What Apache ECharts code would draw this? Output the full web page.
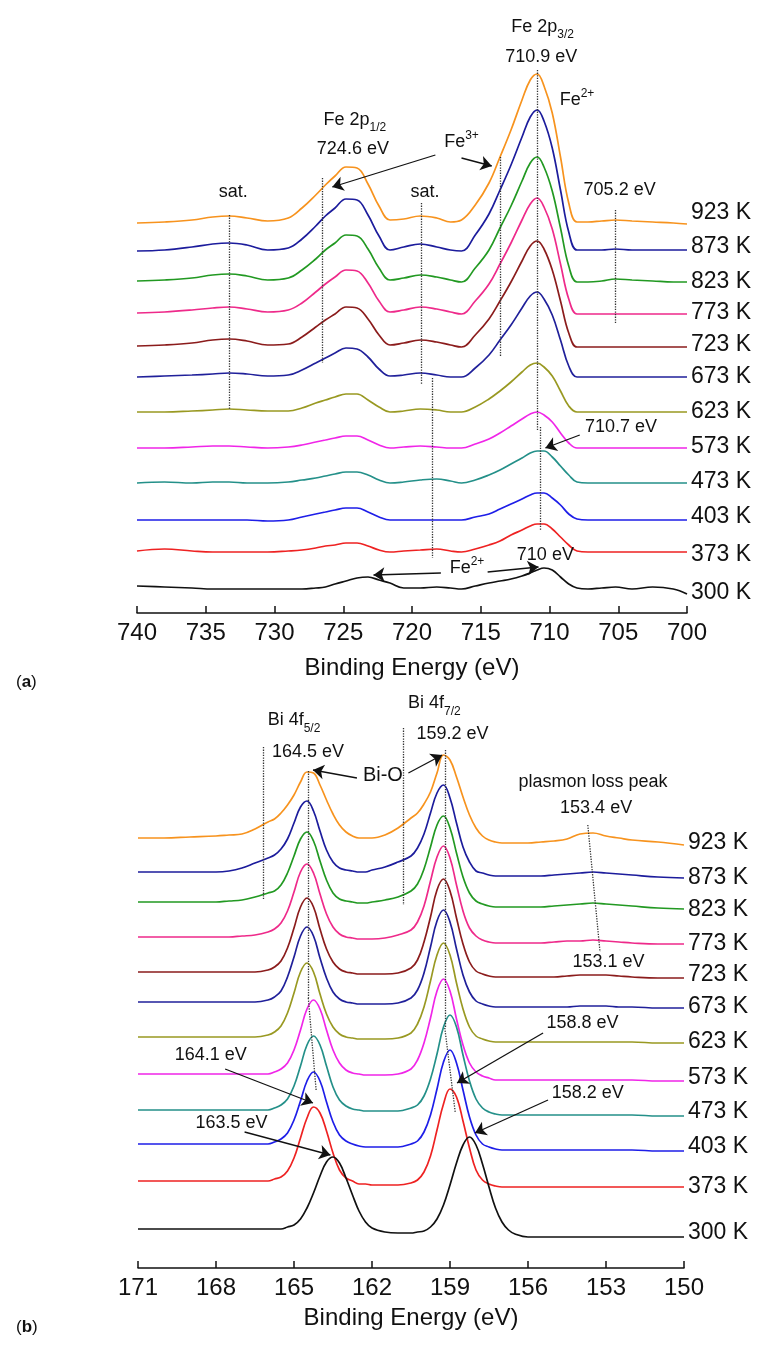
<!DOCTYPE html>
<html><head><meta charset="utf-8">
<script src="https://cdn.jsdelivr.net/npm/echarts@6/dist/echarts.min.js"></script>
<style>html,body{margin:0;padding:0;background:#fff}#c{width:768px;height:1359px}</style>
</head><body><div id="c"></div>
<script>
// ---------- data ----------
const temps = ['923 K','873 K','823 K','773 K','723 K','673 K','623 K','573 K','473 K','403 K','373 K','300 K'];
const colors = ['#F7931E','#1C1C9C','#229922','#EE2A8A','#8B1C1C','#20209A','#999922','#F026E8','#249089','#1E1EE8','#EE2222','#111111'];

// Fe 2p binding energies (eV)
const feX = [740,738,736,734.5,733.3,732,730.5,729,728,727,726.3,725.6,724.8,724,723.2,722.4,721.6,720.6,719.4,718.2,717.2,716.4,715.4,714.4,713.6,712.8,712,711.4,710.9,710.4,709.8,709.2,708.6,708,707.2,706.2,705.2,704,702.5,701,700];
// stacked intensities (a.u.)
const fe923 = [390,391,393,396,397,395,392,395,405,418,428,437,446,445,429,407,393,394,397,395,391,393,408,430,456,483,513,533,539,527,500,456,410,391,391,392,393,392,391,390,389];
const fe873 = [362,363,366,369,370,368,363,365,374,387,397,405,414,413,398,377,363,366,369,366,363,362,378,399,423,448,476,496,503,492,465,423,381,363,363,363,364,363,363,363,363];
const fe823 = [332,333,335,338,339,337,333,335,343,354,363,370,378,377,364,345,333,335,338,336,333,331,345,363,385,407,432,450,456,446,422,385,347,331,331,332,334,333,332,331,331];
const fe773 = [300,301,303,305,306,304,301,303,310,321,329,336,343,342,330,312,301,303,306,304,301,299,312,329,349,370,393,409,415,406,384,349,314,299,299,299,299,299,299,299,299];
const fe723 = [267,268,270,273,274,272,268,269,276,286,293,299,306,305,294,278,268,270,273,271,268,266,278,294,312,331,352,367,372,364,343,312,280,266,266,266,266,266,266,266,266];
const fe673 = [236,237,238,239,240,239,237,238,243,250,255,260,265,264,256,244,237,238,240,238,236,236,245,258,273,288,305,317,321,314,298,273,247,236,236,236,236,236,236,236,236];
const fe623 = [201,201,202,203,204,203,202,202,205,210,213,216,219,219,213,206,201,202,204,203,201,201,206,214,222,231,241,248,250,246,237,222,207,201,201,201,201,201,201,201,201];
const fe573 = [165,165,166,167,167,166,165,166,168,171,173,175,177,177,173,168,165,166,167,166,165,165,169,174,180,187,194,199,201,198,191,180,170,165,165,165,165,165,165,165,165];
const fe473 = [130,131,130,131,131,130,130,131,133,135,137,139,141,141,138,133,130,131,133,134,132,130,133,138,143,149,155,160,162,162,156,147,138,131,130,130,130,130,130,130,130];
const fe403 = [93,93,93,93,93,93,92,93,96,99,101,103,105,105,101,96,93,93,93,93,93,93,96,99,104,109,114,118,120,120,115,108,99,94,93,93,93,93,93,93,93];
const fe373 = [62,64,62,61,61,61,61,62,63,65,67,68,70,70,67,63,61,62,63,64,62,61,64,68,72,78,83,87,89,89,84,76,68,62,61,61,61,61,61,61,61];
const fe300 = [27,26,25,24,24,24,24,24,24,25,26,29,32,35,36,33,30,25,25,26,25,24,27,30,32,34,37,40,43,45,43,36,29,25,24,25,26,24,26,24,19];

// Bi 4f binding energies (eV)
const biX = [171,170,169,168,167.5,167,166.5,166,165.75,165.5,165.25,165,164.75,164.5,164.25,164,163.75,163.5,163.25,163,162.75,162.5,162.25,162,161.5,161,160.5,160.25,160,159.75,159.5,159.25,159,158.75,158.5,158.25,158,157.75,157.5,157.25,157,156.75,156.5,156,155.5,155,154.5,154,153.5,153,152.5,152,151,150];
const bi923 = [430,430,431,432,433,434,439,446,449,455,463,473,486,496,495,483,468,454,443,436,432,430,430,430,433,440,450,455,464,476,495,513,508,491,471,453,440,432,428,426,425,425,425,425,426,427,429,434,435,432,430,428,426,423];
const bi873 = [396,396,396,396,397,400,405,410,413,419,429,445,461,467,457,437,418,406,400,398,397,396,396,398,401,406,412,420,434,455,475,483,470,445,421,406,397,395,393,392,392,392,392,392,392,393,394,395,396,395,394,393,391,390];
const bi823 = [366,366,366,366,367,368,371,375,377,383,395,412,429,436,427,407,388,375,369,367,366,365,365,366,368,371,377,384,399,421,443,452,440,415,391,375,367,364,362,361,361,361,361,361,361,362,363,364,365,364,363,362,360,359];
const bi773 = [331,331,331,331,331,332,333,336,339,345,357,376,396,404,395,374,354,341,334,331,330,329,329,329,330,333,338,346,362,387,411,422,410,383,357,340,332,328,326,325,325,325,325,325,325,326,327,327,328,327,326,325,324,324];
const bi723 = [296,296,296,296,296,296,296,298,301,307,320,340,361,370,361,339,319,306,299,296,295,294,294,294,294,295,300,308,326,351,378,389,377,350,324,306,297,294,292,291,291,291,291,291,291,291,292,293,293,293,292,291,290,290];
const bi673 = [266,266,266,266,266,266,266,268,271,277,291,311,332,341,332,310,290,276,269,266,265,264,264,264,264,265,270,278,295,321,347,358,346,319,293,276,267,264,262,261,261,261,261,261,261,261,261,262,262,262,261,261,260,260];
const bi623 = [231,231,231,231,231,231,231,233,236,242,255,275,296,305,296,274,254,241,234,231,230,229,229,229,229,230,235,244,261,287,313,325,313,285,259,241,232,229,227,226,226,226,226,226,226,226,226,226,226,226,226,226,225,225];
const bi573 = [194,194,194,194,194,194,194,194,196,199,205,218,238,259,268,259,238,218,205,198,195,194,193,193,193,194,199,208,225,250,277,289,277,249,223,205,196,192,190,188,188,188,188,188,188,188,188,188,188,188,188,188,187,187];
const bi473 = [158,158,158,158,158,158,158,158,160,163,169,182,202,223,232,223,202,181,168,162,159,158,157,157,157,157,160,163,172,189,214,241,253,241,213,187,169,160,156,154,153,153,153,153,153,153,153,153,153,153,153,153,152,152];
const bi403 = [124,124,124,124,124,124,124,124,126,129,135,148,167,187,196,187,166,146,133,127,124,122,121,121,121,121,124,127,136,153,179,206,218,205,178,151,133,124,121,119,118,118,118,118,118,118,118,118,118,118,118,118,117,117];
const bi373 = [87,87,87,87,87,87,87,87,89,91,97,110,130,150,161,155,137,115,98,90,87,84,84,83,83,83,85,88,96,112,138,164,179,171,147,120,98,88,84,82,81,81,81,81,81,81,81,81,81,81,81,81,81,81];
const bi300 = [39,39,39,39,39,39,39,39,39,39,41,43,49,60,75,92,106,111,105,90,73,57,46,40,36,35,35,36,37,41,49,63,83,105,123,131,123,104,81,60,46,38,34,31,31,31,31,31,31,31,31,31,31,31];

// axis tick settings
const feTicks = {min:700, max:740, interval:5};
const biTicks = {min:150, max:171, interval:3};

const feData = [fe923,fe873,fe823,fe773,fe723,fe673,fe623,fe573,fe473,fe403,fe373,fe300];
const biData = [bi923,bi873,bi823,bi773,bi723,bi673,bi623,bi573,bi473,bi403,bi373,bi300];

// ---------- annotations (in data coordinates) ----------
const FF = '"Liberation Sans", Arial, Helvetica, sans-serif';
const feDotted = [[[733.3,398],[733.3,203]],[[726.5,435],[726.5,250]],[[719.35,410],[719.35,229]],[[718.5,235],[718.5,55]],[[713.6,456],[713.6,257]],[[710.9,543],[710.9,183]],[[710.7,186],[710.7,83]],[[705.2,403],[705.2,290]]];
const feArrows = [[[718.3,458],[725.8,426]],[[716.4,455],[714.2,447]],[[707.8,178],[710.3,165]],[[717.9,40],[722.8,38]],[[714.5,41],[710.8,46]]];
const biDotted = [[[166.2,521],[166.2,368]],[[160.8,540],[160.8,363]],[[164.45,497],[164.45,270]],[[164.45,270],[164.15,178]],[[159.2,518],[159.2,240]],[[159.2,240],[158.8,156]],[[153.7,443],[153.23,316]]];
const biArrows = [[[162.58,490],[164.27,498]],[[160.6,495],[159.3,513]],[[155.42,235],[158.73,185]],[[155.23,168],[158.04,135]],[[167.65,199],[164.27,165]],[[166.9,136],[163.6,113]]];

const feNotes = [
  {x:724.15, y:493, parts:[['Fe 2p',18,0],['1/2',12,8]]},
  {x:724.3, y:464, parts:[['724.6 eV',18,0]]},
  {x:733.0, y:421, parts:[['sat.',18,0]]},
  {x:719.05, y:421, parts:[['sat.',18,0]]},
  {x:710.5, y:586, parts:[['Fe 2p',18,0],['3/2',12,8]]},
  {x:710.6, y:556, parts:[['710.9 eV',18,0]]},
  {x:708.0, y:513, parts:[['Fe',18,0],['2+',12,-6]]},
  {x:716.4, y:471, parts:[['Fe',18,0],['3+',12,-6]]},
  {x:704.9, y:423, parts:[['705.2 eV',18,0]]},
  {x:704.8, y:186, parts:[['710.7 eV',18,0]]},
  {x:710.3, y:58, parts:[['710 eV',18,0]]},
  {x:716.0, y:45, parts:[['Fe',18,0],['2+',12,-6]]}
];
const biNotes = [
  {x:165.0, y:548, parts:[['Bi 4f',18,0],['5/2',12,9]]},
  {x:164.46, y:516, parts:[['164.5 eV',18,0]]},
  {x:161.58, y:493, parts:[['Bi-O',20,0]]},
  {x:159.6, y:565, parts:[['Bi 4f',18,0],['7/2',12,9]]},
  {x:158.9, y:534, parts:[['159.2 eV',18,0]]},
  {x:153.5, y:486, parts:[['plasmon loss peak',18,0]]},
  {x:153.38, y:460, parts:[['153.4 eV',18,0]]},
  {x:152.9, y:306, parts:[['153.1 eV',18,0]]},
  {x:153.9, y:245, parts:[['158.8 eV',18,0]]},
  {x:153.7, y:175, parts:[['158.2 eV',18,0]]},
  {x:168.2, y:213, parts:[['164.1 eV',18,0]]},
  {x:167.4, y:145, parts:[['163.5 eV',18,0]]}
];
const feLabelDy = [-11,-3,0,-1,-2,0,0,-1,-1,-3,3,-1];
const biLabelDy = [-2,0,1,0,-3,-1,-1,-3,-4,-4,0,-4];

// ---------- chart ----------
const chart = echarts.init(document.getElementById('c'), null, {renderer:'canvas'});

function dotted(p){ return [{coord:p[0], symbol:'none', lineStyle:{type:'dotted', color:'#333', width:1.3}}, {coord:p[1], symbol:'none'}]; }
function arrow(p){ return [{coord:p[0], symbol:'none', lineStyle:{type:'solid', color:'#111', width:1.3}}, {coord:p[1], symbol:'arrow', symbolSize:11}]; }

function mkSeries(xs, ys, i, g, extra){
  const s = {type:'line', name: temps[i] + (g ? ' b':' a'), xAxisIndex:g, yAxisIndex:g,
    data: xs.map((x,j)=>[x, ys[j]]), smooth:0.4, symbol:'none', silent:true, animation:false,
    lineStyle:{color:colors[i], width:1.7}};
  if (extra) s.markLine = {silent:true, animation:false, label:{show:false}, symbolSize:11,
    emphasis:{disabled:true}, data: extra};
  return s;
}

function xAxisCfg(g, t, gap){
  return {gridIndex:g, type:'value', min:t.min, max:t.max, interval:t.interval, inverse:true,
    axisLine:{show:true, onZero:false, lineStyle:{color:'#111', width:1.5}},
    axisTick:{show:true, inside:true, length:7, lineStyle:{color:'#111', width:1.5}},
    axisLabel:{fontSize:24, color:'#111', margin:8, fontFamily:FF},
    splitLine:{show:false},
    name:'Binding Energy (eV)', nameLocation:'middle', nameGap:gap,
    nameTextStyle:{fontSize:24, color:'#111', fontFamily:FF}};
}

const series = [];
feData.forEach((ys,i)=>series.push(mkSeries(feX, ys, i, 0, i===0 ? feDotted.map(dotted).concat(feArrows.map(arrow)) : null)));
biData.forEach((ys,i)=>series.push(mkSeries(biX, ys, i, 1, i===0 ? biDotted.map(dotted).concat(biArrows.map(arrow)) : null)));

chart.setOption({
  animation:false,
  backgroundColor:'#fff',
  grid:[
    {left:137, width:550, top:0, height:613, containLabel:false, outerBoundsMode:'none'},
    {left:138, width:546, top:655, height:613, containLabel:false, outerBoundsMode:'none'}
  ],
  xAxis:[xAxisCfg(0, feTicks, 43), xAxisCfg(1, biTicks, 38)],
  yAxis:[
    {gridIndex:0, type:'value', min:0, max:613, show:false},
    {gridIndex:1, type:'value', min:0, max:613, show:false}
  ],
  series: series
});

// ---------- text overlays ----------
const mctx = document.createElement('canvas').getContext('2d');
function tw(t, size, weight){ mctx.font = (weight||'normal') + ' ' + size + 'px ' + FF; return mctx.measureText(t).width; }
function partsEls(cx, cy, parts, alignLeft){
  const widths = parts.map(p=>tw(p[0], p[1], p[3]));
  const total = widths.reduce((a,b)=>a+b,0);
  let x = alignLeft ? cx : cx - total/2;
  const els = [];
  parts.forEach((p,k)=>{
    els.push({type:'text', silent:true, x:x, y:cy + p[2], z:10,
      style:{text:p[0], fill:'#111', fontSize:p[1], fontFamily:FF, fontWeight:p[3]||'normal', align:'left', verticalAlign:'middle'}});
    x += widths[k];
  });
  return els;
}
const els = [];
feNotes.forEach(n=>{ const p = chart.convertToPixel({gridIndex:0}, [n.x, n.y]); els.push(...partsEls(p[0], p[1], n.parts)); });
biNotes.forEach(n=>{ const p = chart.convertToPixel({gridIndex:1}, [n.x, n.y]); els.push(...partsEls(p[0], p[1], n.parts)); });
feData.forEach((ys,i)=>{ const p = chart.convertToPixel({gridIndex:0}, [feX[feX.length-1], ys[ys.length-1]]); els.push(...partsEls(p[0]+4, p[1]+feLabelDy[i], [[temps[i],23,0]], true)); });
biData.forEach((ys,i)=>{ const p = chart.convertToPixel({gridIndex:1}, [biX[biX.length-1], ys[ys.length-1]]); els.push(...partsEls(p[0]+4, p[1]+biLabelDy[i], [[temps[i],23,0]], true)); });
els.push(...partsEls(16, 682, [['(',17,0],['a',17,0,'bold'],[')',17,0]], true));
els.push(...partsEls(16, 1327, [['(',17,0],['b',17,0,'bold'],[')',17,0]], true));
chart.setOption({graphic:{elements:els}});
</script>
</body></html>
